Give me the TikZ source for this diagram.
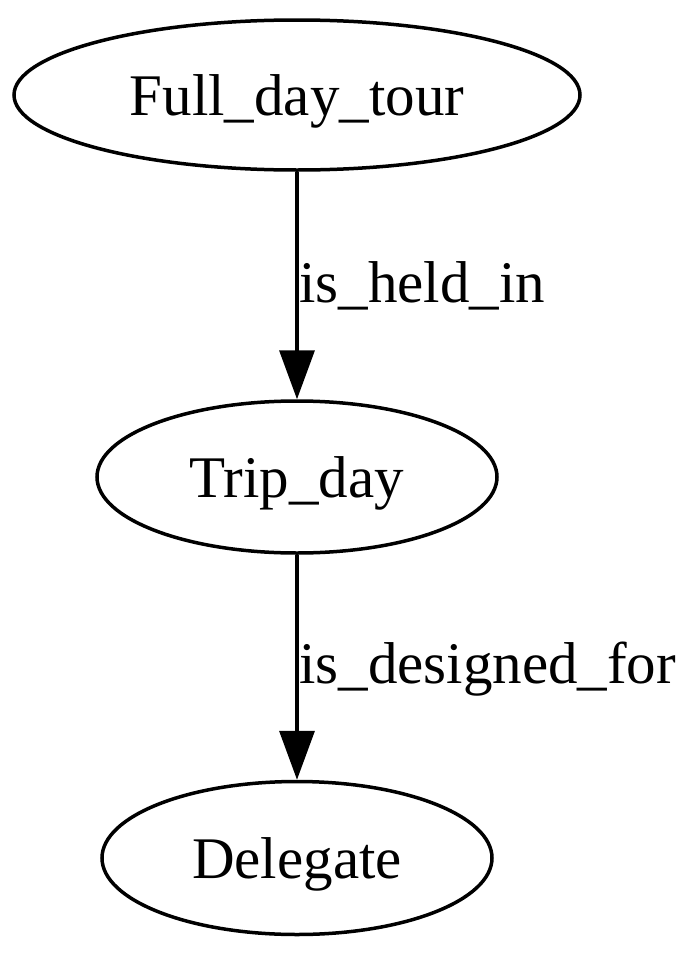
\documentclass[tikz,border=0pt]{standalone}
\usepackage{fontspec}
\setmainfont{Liberation Serif}
\usetikzlibrary{shapes.geometric,arrows.meta}
\tikzset{
  gnode/.style={draw, line width=3.5pt, ellipse, inner sep=0pt, text height=40pt, text depth=0pt,
    font=\fontsize{59}{70}\selectfont},
  gedge/.style={draw, line width=3.5pt, -{Triangle[length=49pt,width=35pt]}},
  glabel/.style={inner sep=0pt, anchor=base west, font=\fontsize{59}{70}\selectfont}
}
\begin{document}
\begin{tikzpicture}[x=1pt,y=-1pt]
\useasboundingbox (0,0) rectangle (700,953);
\node[gnode, minimum width=566pt, minimum height=150pt] (a) at (297,95) {Full\_day\_tour};
\node[gnode, minimum width=400pt, minimum height=152pt] (b) at (297,477) {Trip\_day};
\node[gnode, minimum width=390pt, minimum height=153pt] (c) at (297,858) {Delegate};
\draw[gedge] (a) -- (b);
\draw[gedge] (b) -- (c);
\node[glabel] (l1) at (299,302) {is\_held\_in};
\node[glabel] (l2) at (299,683) {is\_designed\_for};
\end{tikzpicture}
\end{document}
